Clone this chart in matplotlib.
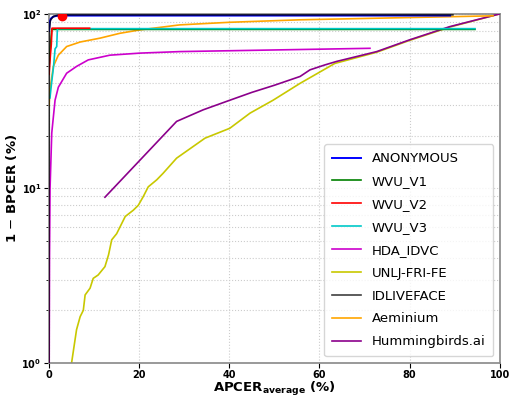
import numpy as np
import matplotlib
matplotlib.use('Agg')
import matplotlib.pyplot as plt

# curves (APCER_average %, 1 - BPCER %)
anon_x = [0.0, 0.15, 0.4, 0.8, 1.5, 2.5, 89.0]
anon_y = [80.0, 90.0, 94.0, 96.0, 97.3, 97.8, 97.8]

wvu1_x = [0.0, 0.4, 0.6, 94.5]
wvu1_y = [50.0, 70.0, 81.5, 81.5]

wvu2_x = [0.0, 0.3, 0.5, 0.65, 9.0]
wvu2_y = [45.0, 58.0, 67.0, 82.8, 82.8]

wvu3_x = [0.2, 0.6, 1.0, 1.33, 1.7, 1.85, 94.5]
wvu3_y = [33.0, 41.0, 50.0, 63.0, 65.0, 82.3, 82.3]

hda_x = [0.0, 0.1, 0.22, 0.6, 1.33, 2.06, 3.9, 6.1, 8.7, 13.5, 20.2, 29.0, 71.2]
hda_y = [0.5, 4.0, 10.0, 20.8, 32.0, 38.0, 45.7, 50.0, 54.5, 58.0, 59.6, 60.8, 63.5]

unlj_x = [5.0, 6.1, 6.9, 7.6, 8.0, 9.1, 9.8, 10.9, 12.4, 13.2, 13.9, 15.0, 16.9, 18.7,
          19.8, 20.9, 22.0, 23.9, 25.3, 28.3, 34.6, 40.1, 44.6, 49.7, 55.7, 63.4,
          72.7, 80.0, 88.9, 100.0]
unlj_y = [1.0, 1.55, 1.84, 2.0, 2.45, 2.68, 3.05, 3.19, 3.56, 4.16, 5.07, 5.5, 6.9, 7.5,
          8.0, 8.97, 10.2, 11.2, 12.2, 14.9, 19.4, 22.1, 27.0, 32.0, 40.0, 52.0,
          60.3, 70.5, 84.0, 100.0]

idl_x = [0.0, 0.05, 0.3, 1.0, 2.0, 3.5, 89.6]
idl_y = [1.0, 80.0, 92.0, 97.0, 98.3, 98.7, 98.7]

aem_x = [0.0, 0.2, 0.95, 2.06, 3.9, 6.9, 11.3, 15.7, 20.2, 29.0, 40.0, 55.7, 98.5]
aem_y = [30.0, 36.6, 50.0, 58.0, 65.0, 69.0, 72.6, 77.4, 81.0, 86.5, 89.5, 92.5, 97.5]

hum_x = [12.4, 28.3, 34.2, 40.1, 45.0, 50.0, 55.7, 57.9, 61.2, 63.8, 66.7, 72.7, 80.0,
         88.9, 100.0]
hum_y = [8.9, 24.2, 28.2, 32.0, 35.5, 39.0, 43.8, 47.8, 51.0, 53.4, 55.7, 60.8, 71.0,
         84.5, 100.0]

point_x = [2.9]
point_y = [97.4]

fig = plt.figure(figsize=(5.11, 3.97), dpi=100)
ax = fig.add_axes([0.096, 0.086, 0.882, 0.879])

ax.plot(unlj_x, unlj_y, color='#c8c800', lw=1.2, label='UNLJ-FRI-FE', zorder=2)
ax.plot(hum_x, hum_y, color='#8b008b', lw=1.2, label='Hummingbirds.ai', zorder=3)
ax.plot(hda_x, hda_y, color='#cc00cc', lw=1.2, label='HDA_IDVC', zorder=3)
ax.plot(aem_x, aem_y, color='orange', lw=1.2, label='Aeminium', zorder=3)
ax.plot(wvu1_x, wvu1_y, color='green', lw=1.2, label='WVU_V1', zorder=3)
ax.plot(wvu3_x, wvu3_y, color='#00c8c8', lw=1.2, label='WVU_V3', zorder=3)
ax.plot(wvu2_x, wvu2_y, color='red', lw=1.2, label='WVU_V2', zorder=4)
ax.plot(anon_x, anon_y, color='blue', lw=1.4, label='ANONYMOUS', zorder=4)
ax.plot(idl_x, idl_y, color='black', lw=1.2, alpha=0.75, label='IDLIVEFACE', zorder=5)
ax.plot(point_x, point_y, 'o', color='red', ms=6, zorder=6)

ax.set_yscale('log')
ax.set_xlim(0, 100)
ax.set_ylim(1, 100)
ax.set_xticks([0, 20, 40, 60, 80, 100])
ax.grid(True, which='major', ls=':', color='#cccccc', lw=0.8)
ax.grid(True, which='minor', ls=':', color='#cccccc', lw=0.8)
for s in ax.spines.values():
    s.set_color('#888888')
    s.set_linewidth(1.2)

ax.tick_params(labelsize=7, pad=2)
for lab in ax.get_xticklabels() + ax.get_yticklabels():
    lab.set_fontweight('bold')

ax.set_xlabel(r'APCER$_{\mathbf{average}}$ (%)', fontweight='bold', fontsize=9.5, labelpad=0)
ax.set_ylabel(r'1 $-$ BPCER (%)', fontweight='bold', fontsize=9.5, labelpad=2)

handles, labels = ax.get_legend_handles_labels()
order = ['ANONYMOUS', 'WVU_V1', 'WVU_V2', 'WVU_V3', 'HDA_IDVC', 'UNLJ-FRI-FE',
         'IDLIVEFACE', 'Aeminium', 'Hummingbirds.ai']
hmap = dict(zip(labels, handles))
ax.legend([hmap[k] for k in order], order, loc='lower right', fontsize=9.5,
          handlelength=2.2, labelspacing=0.75, borderpad=0.6)

fig.savefig('out.png', dpi=100)
